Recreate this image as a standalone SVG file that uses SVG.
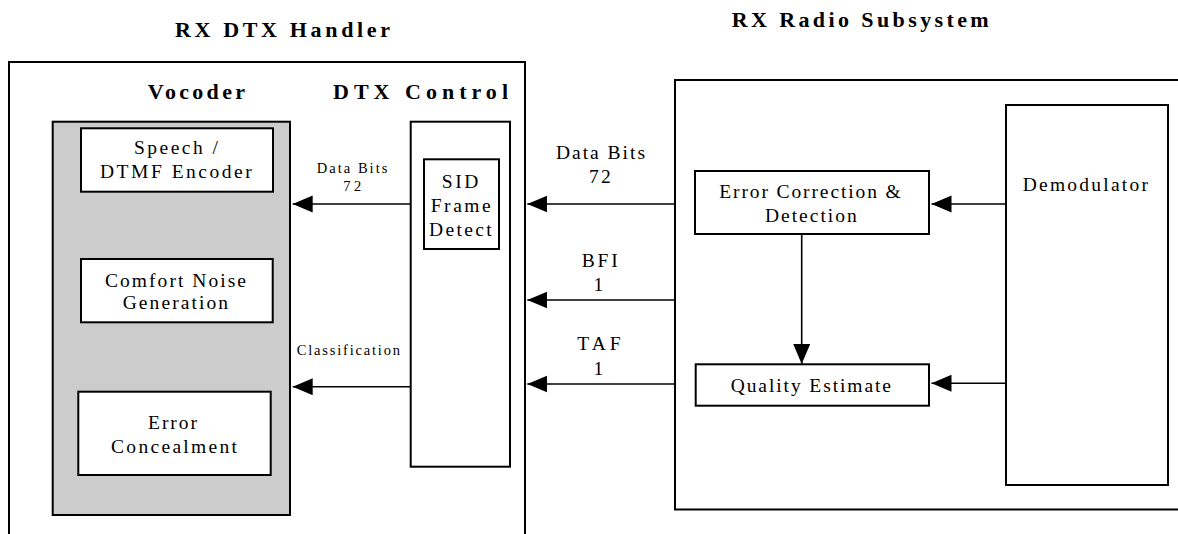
<svg xmlns="http://www.w3.org/2000/svg" width="1178" height="534" viewBox="0 0 1178 534">
<style>
  text { font-family: "Liberation Serif", "Times New Roman", serif; fill: #000; }
  .title { font-size: 22px; font-weight: bold; }
  .lbl { font-size: 19.5px; }
  .sm { font-size: 14.5px; }
  .box { fill: #fff; stroke: #000; stroke-width: 2; }
  .frame { fill: none; stroke: #000; stroke-width: 2; }
  .gray { fill: #cccccc; stroke: #000; stroke-width: 2; }
  .conn { fill: none; stroke: #000; stroke-width: 1.6; marker-end: url(#arrow); }
</style>
<defs>
  <marker id="arrow" markerUnits="userSpaceOnUse" markerWidth="21" markerHeight="18" refX="20" refY="8.5" orient="auto">
    <path d="M0,0 L20,8.5 L0,17 Z" fill="#000"/>
  </marker>
</defs>
<rect width="1178" height="534" fill="#fff"/>

<g id="rx-dtx-handler">
  <rect class="frame" x="9" y="62" width="516" height="490"/>
  <text class="title" x="175" y="36.7" textLength="215" lengthAdjust="spacing">RX DTX Handler</text>
</g>

<g id="vocoder">
  <rect class="gray" x="52.7" y="121.7" width="237.3" height="393.3"/>
  <text class="title" x="147.7" y="99.3" textLength="97.3" lengthAdjust="spacing">Vocoder</text>
</g>

<g id="speech-encoder">
  <rect class="box" x="81" y="128.3" width="192" height="63.4"/>
  <text class="lbl" x="134" y="154.3" textLength="84" lengthAdjust="spacing">Speech /</text>
  <text class="lbl" x="100" y="178.3" textLength="151.7" lengthAdjust="spacing">DTMF Encoder</text>
</g>

<g id="comfort-noise">
  <rect class="box" x="81" y="259" width="191.7" height="63.3"/>
  <text class="lbl" x="105" y="286.7" textLength="141" lengthAdjust="spacing">Comfort Noise</text>
  <text class="lbl" x="122.7" y="309.3" textLength="105.3" lengthAdjust="spacing">Generation</text>
</g>

<g id="error-concealment">
  <rect class="box" x="78.3" y="391.7" width="192.4" height="83.3"/>
  <text class="lbl" x="148" y="429.3" textLength="49" lengthAdjust="spacing">Error</text>
  <text class="lbl" x="111" y="452.7" textLength="126" lengthAdjust="spacing">Concealment</text>
</g>

<g id="dtx-control">
  <rect class="box" x="410.7" y="121.7" width="99.3" height="345"/>
  <text class="title" x="333" y="99.3" textLength="175" lengthAdjust="spacing">DTX Control</text>
</g>

<g id="sid-frame-detect">
  <rect class="box" x="424" y="159.3" width="75" height="89.7"/>
  <text class="lbl" x="441.7" y="188" textLength="36.7" lengthAdjust="spacing">SID</text>
  <text class="lbl" x="430.7" y="211.7" textLength="60" lengthAdjust="spacing">Frame</text>
  <text class="lbl" x="429" y="236" textLength="62.7" lengthAdjust="spacing">Detect</text>
</g>

<g id="rx-radio-subsystem">
  <path class="frame" d="M1180,80 H675 V509.5 H1180"/>
  <text class="title" x="731.7" y="26.7" textLength="257" lengthAdjust="spacing">RX Radio Subsystem</text>
</g>

<g id="error-correction">
  <rect class="box" x="695" y="171" width="234" height="63"/>
  <text class="lbl" x="719.3" y="198.3" textLength="181.4" lengthAdjust="spacing">Error Correction &amp;</text>
  <text class="lbl" x="765" y="221.7" textLength="91.7" lengthAdjust="spacing">Detection</text>
</g>

<g id="quality-estimate">
  <rect class="box" x="695.7" y="364.3" width="233.3" height="41.4"/>
  <text class="lbl" x="730.7" y="392.3" textLength="160.3" lengthAdjust="spacing">Quality Estimate</text>
</g>

<g id="demodulator">
  <rect class="box" x="1006" y="105" width="162" height="380"/>
  <text class="lbl" x="1022.7" y="191" textLength="125.3" lengthAdjust="spacing">Demodulator</text>
</g>

<g id="connectors">
  <line class="conn" x1="410.7" y1="204" x2="292.7" y2="204"/>
  <line class="conn" x1="410.7" y1="386.7" x2="292.7" y2="386.7"/>
  <line class="conn" x1="675" y1="204" x2="527.3" y2="204"/>
  <line class="conn" x1="675" y1="300" x2="527.3" y2="300"/>
  <line class="conn" x1="675" y1="384" x2="527.3" y2="384"/>
  <line class="conn" x1="1006" y1="204" x2="931.5" y2="204"/>
  <line class="conn" x1="1006" y1="383.3" x2="931.5" y2="383.3"/>
  <line class="conn" x1="801.7" y1="234" x2="801.7" y2="364"/>
  <text class="sm" x="316.7" y="173" textLength="70.7" lengthAdjust="spacing">Data Bits</text>
  <text class="sm" x="343.3" y="191" textLength="18" lengthAdjust="spacing">72</text>
  <text class="sm" x="296.7" y="355" textLength="103.3" lengthAdjust="spacing">Classification</text>
  <text class="lbl" x="556" y="159.3" textLength="89" lengthAdjust="spacing">Data Bits</text>
  <text class="lbl" x="589" y="183.3" textLength="21.7" lengthAdjust="spacing">72</text>
  <text class="lbl" x="581.7" y="266.7" textLength="36" lengthAdjust="spacing">BFI</text>
  <text class="lbl" x="598.3" y="291" text-anchor="middle">1</text>
  <text class="lbl" x="577.3" y="350" textLength="43.3" lengthAdjust="spacing">TAF</text>
  <text class="lbl" x="598.3" y="375" text-anchor="middle">1</text>
</g>
</svg>
